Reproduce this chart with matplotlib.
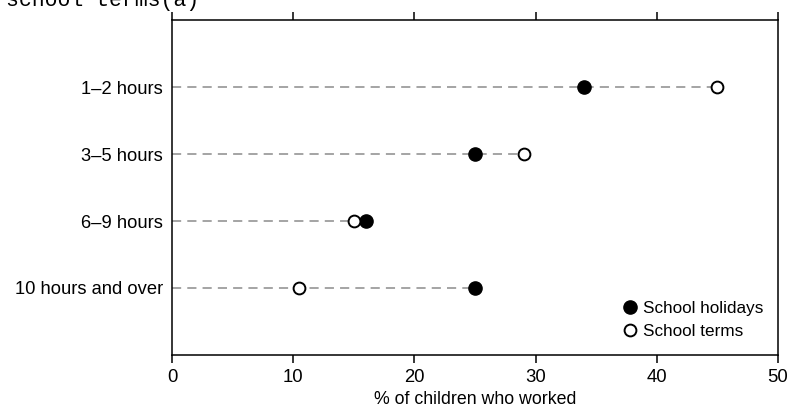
import matplotlib
matplotlib.use("Agg")
import matplotlib.pyplot as plt

# hours worked per week, % of children who worked
categories = ["1–2 hours", "3–5 hours", "6–9 hours", "10 hours and over"]
holidays = [34.0, 25.0, 16.0, 25.0]
terms = [45.0, 29.0, 15.0, 10.5]

plt.rcParams['font.family'] = ['Liberation Sans', 'DejaVu Sans']

fig = plt.figure(figsize=(7.91, 4.17), dpi=100)
ax = fig.add_axes([0.2175, 0.1487, 0.9836 - 0.2175, 0.952 - 0.1487])

ypos = list(range(len(categories)))[::-1]
ends = [max(h, t) for h, t in zip(holidays, terms)]

ax.hlines(ypos, 0, ends, colors="#8c8c8c", linewidth=1.1,
          linestyles=(0, (6.0, 4.0)), zorder=1)
ax.plot(holidays, ypos, "o", ms=9.5, mfc="black", mec="black",
        linestyle="none", label="School holidays", zorder=3)
ax.plot(terms, ypos, "o", ms=8.5, mfc="white", mec="black", mew=1.4,
        linestyle="none", label="School terms", zorder=3)

ax.set_xlim(0, 50)
ax.set_ylim(-1, 4)
ax.set_xticks([0, 10, 20, 30, 40, 50])
ax.set_yticks(ypos)
ax.set_yticklabels(categories)

for s in ax.spines.values():
    s.set_linewidth(1.1)

ax.tick_params(axis="x", direction="out", length=6, width=1.1,
               top=True, labeltop=False, labelsize=13.3, pad=4)
ax.tick_params(axis="y", length=0, labelsize=13.2, pad=6.5)

ax.set_xlabel("% of children who worked", fontsize=12.8, labelpad=4)

ax.legend(loc="lower right", frameon=False, fontsize=12.3,
          handletextpad=0.25, borderaxespad=0, labelspacing=0.45,
          handlelength=1.0, bbox_to_anchor=(0.987, 0.027))

# title is cut off at the top of the picture
fig.text(0.008, 1 - 6 / 417, "school terms(a)", fontsize=15.5,
         family="Liberation Mono", va="baseline", ha="left")

fig.savefig("out.png", dpi=100)
